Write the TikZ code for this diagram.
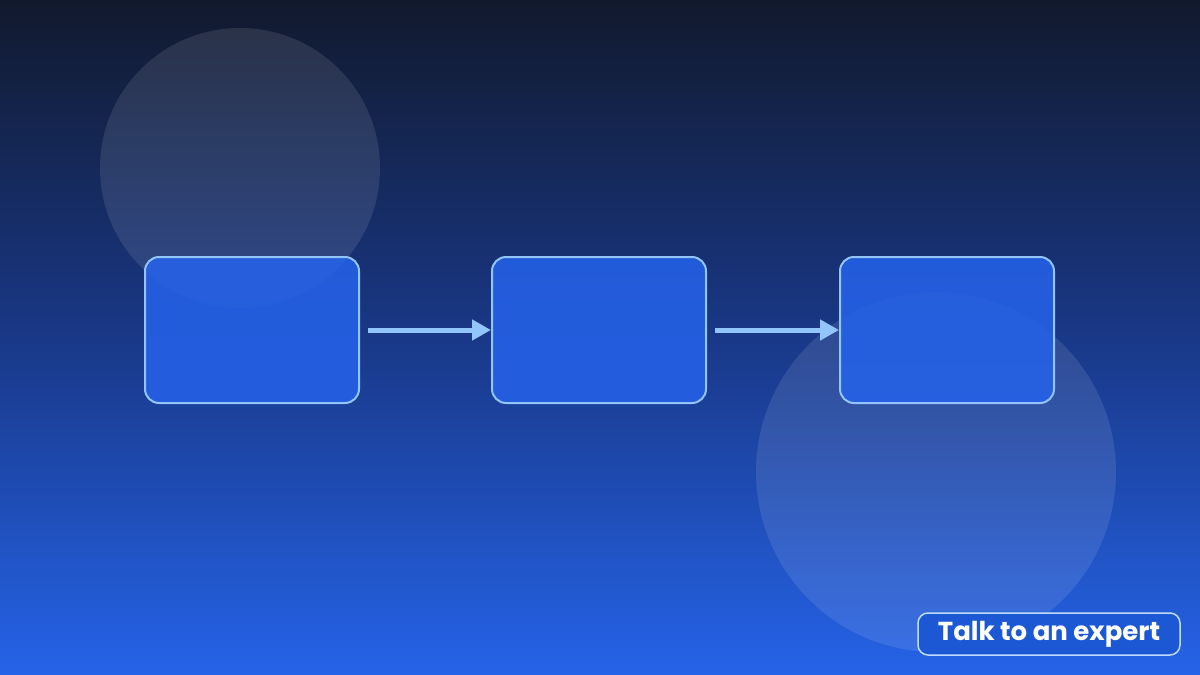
\documentclass[tikz,border=0pt]{standalone}
\usepackage{fontspec}
\setmainfont{Poppins}
\usetikzlibrary{positioning,arrows.meta}
\definecolor{bgtop}{RGB}{17,25,45}
\definecolor{bgbot}{RGB}{37,99,232}
\definecolor{boxfill}{RGB}{37,99,235}
\definecolor{edge}{RGB}{147,197,253}
\definecolor{btnfill}{RGB}{28,88,212}
\definecolor{btnedge}{RGB}{191,219,254}

\begin{document}
\begin{tikzpicture}[x=1pt,y=-1pt,
    stage/.style={draw=edge,line width=2pt,fill=boxfill,fill opacity=0.85,draw opacity=1,
        rounded corners=14pt,minimum width=214pt,minimum height=146pt,inner sep=0pt},
    flow/.style={draw=edge,line width=5pt,-{Triangle[length=19pt,width=20pt]}},
    blob/.style={fill=white,fill opacity=0.1}]
    % background
    \shade[top color=bgtop,bottom color=bgbot,middle color={rgb,255:red,25;green,56;blue,135}] (0,0) rectangle (1200,675);
    \useasboundingbox (0,0) rectangle (1200,675);
    \fill[blob] (240,168) circle[radius=140pt];
    \fill[blob] (936,472) circle[radius=180pt];
    % the three stages
    \node[stage] (box1) at (252,330) {};
    \node[stage,right=131pt of box1] (box2) {};
    \node[stage,right=132pt of box2] (box3) {};
    \draw[flow,shorten <=8pt] (box1) -- (box2);
    \draw[flow,shorten <=8pt] (box2) -- (box3);
    % button
    \node[draw=btnedge,line width=1.5pt,fill=btnfill,rounded corners=10pt,
        minimum width=262pt,minimum height=42pt,text=white,font=\fontsize{26}{30}\selectfont\bfseries]
        (expert) at (1049,634) {Talk to an expert};
\end{tikzpicture}
\end{document}
